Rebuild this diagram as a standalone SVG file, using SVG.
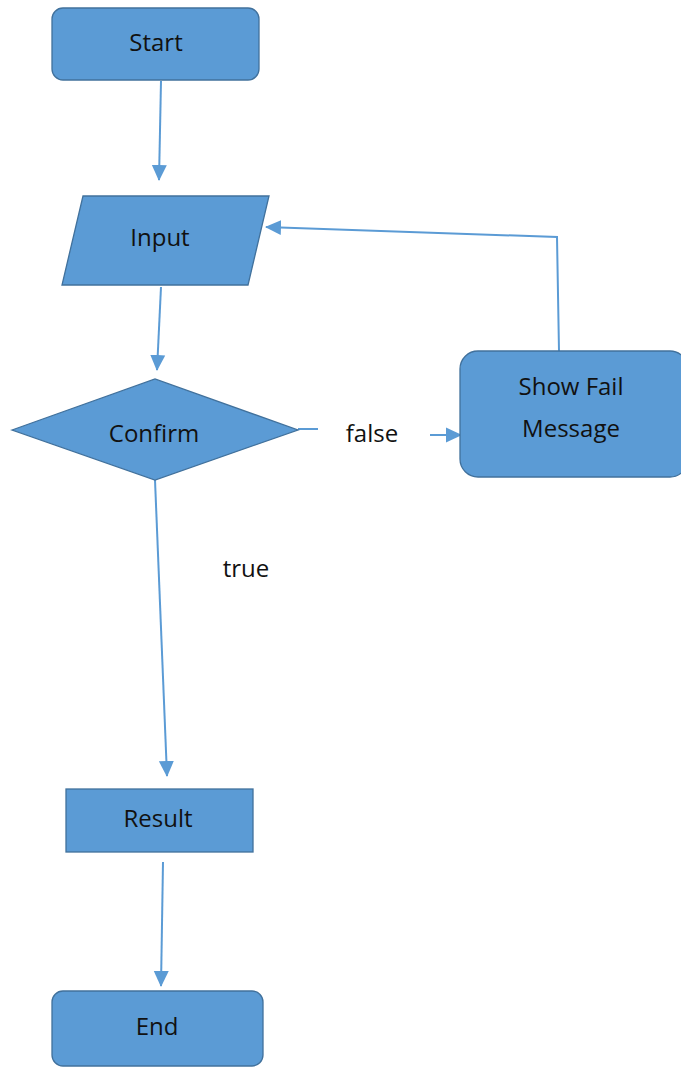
<svg xmlns="http://www.w3.org/2000/svg" width="681" height="1067" viewBox="0 0 681 1067">
<style>
.node{fill:#5B9BD5;stroke:#41719C;stroke-width:1.3}
.lbl{font-family:"Open Sans","Noto Sans",sans-serif;font-size:24px;fill:#111;text-anchor:middle}
.edge{fill:none;stroke:#5B9BD5;stroke-width:2}
</style>
<defs>
<marker id="ah" markerWidth="10" markerHeight="10" refX="9" refY="5" orient="auto" markerUnits="userSpaceOnUse" viewBox="0 0 10 10">
<path d="M0,0 L10,5 L0,10 z" fill="#5B9BD5"/>
</marker>
<marker id="ahb" markerWidth="16" markerHeight="16" refX="15" refY="8" orient="auto" markerUnits="userSpaceOnUse" viewBox="0 0 16 16">
<path d="M0,0.5 L16,8 L0,15.5 z" fill="#5B9BD5"/>
</marker>
</defs>
<rect width="681" height="1067" fill="#fff"/>
<g id="connectors">
<path class="edge" d="M161,81 L159,180" marker-end="url(#ahb)"/>
<path class="edge" d="M161,287 L157,370" marker-end="url(#ahb)"/>
<path class="edge" d="M298,429 L318,429"/>
<path class="edge" d="M430,435 L461,435" marker-end="url(#ahb)"/>
<path class="edge" d="M559,351 L557,237 L266,227" marker-end="url(#ahb)"/>
<path class="edge" d="M155,480 L167,776" marker-end="url(#ahb)"/>
<path class="edge" d="M163,862 L161,986" marker-end="url(#ahb)"/>
<text class="lbl" x="372" y="442">false</text>
<text class="lbl" x="246" y="577">true</text>
</g>
<g id="start">
<rect class="node" x="52" y="8" width="207" height="72" rx="11"/>
<text class="lbl" x="156" y="51">Start</text>
</g>
<g id="input">
<polygon class="node" points="83,196 269,196 248,285 62,285"/>
<text class="lbl" x="160" y="246">Input</text>
</g>
<g id="confirm">
<polygon class="node" points="12,430 155,379 298,430 155,480"/>
<text class="lbl" x="154" y="442">Confirm</text>
</g>
<g id="fail">
<rect class="node" x="460" y="351" width="228" height="126" rx="18"/>
<text class="lbl" x="571" y="395">Show Fail</text>
<text class="lbl" x="571" y="437">Message</text>
</g>
<g id="result">
<rect class="node" x="66" y="789" width="187" height="63"/>
<text class="lbl" x="158" y="827">Result</text>
</g>
<g id="end">
<rect class="node" x="52" y="991" width="211" height="75" rx="11"/>
<text class="lbl" x="157" y="1035">End</text>
</g>
</svg>
